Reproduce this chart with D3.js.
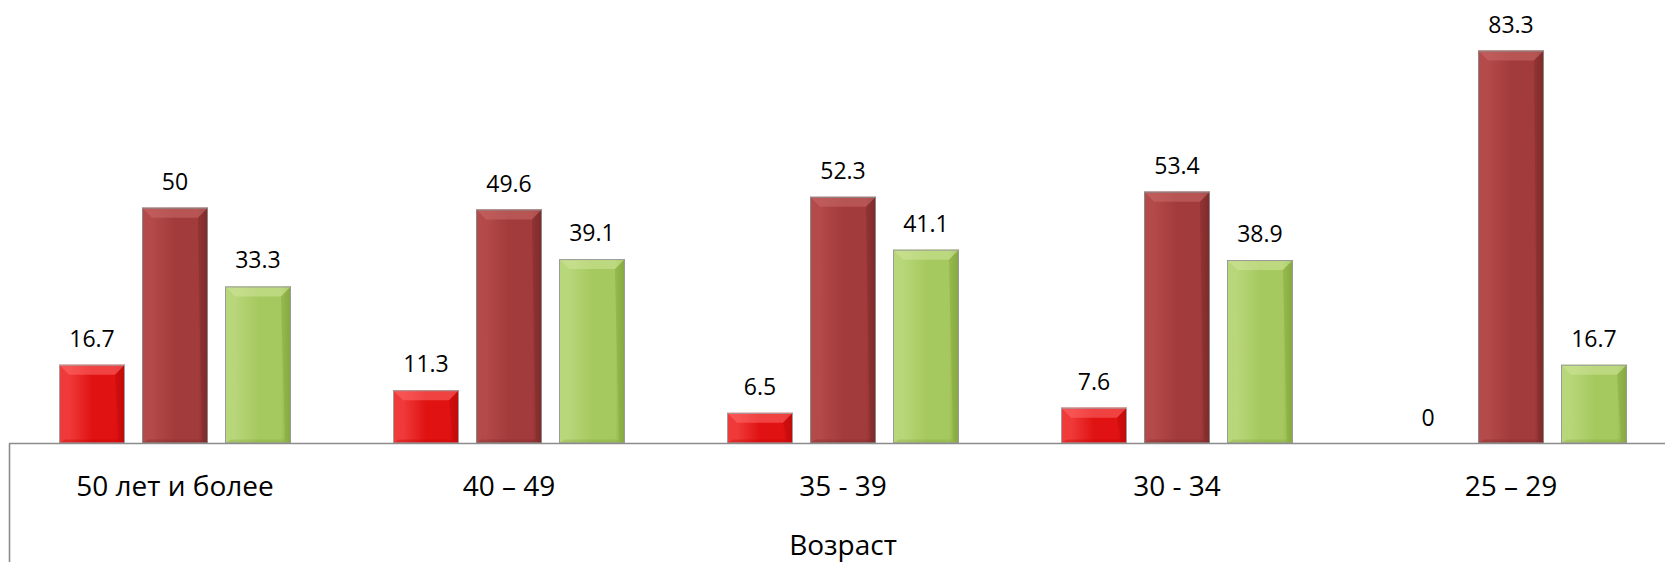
<!DOCTYPE html>
<html>
<head>
<meta charset="utf-8">
<script src="https://cdn.jsdelivr.net/npm/d3@7"></script>
<style>
  html, body { margin: 0; padding: 0; background: #ffffff; }
  svg { display: block; }
  text { font-family: "Open Sans", "Noto Sans", sans-serif; fill: #000; }
</style>
</head>
<body>
<svg id="chart" width="1665" height="562"></svg>
<script>
// ---- data ----
const categories = ["50 лет и более", "40 – 49", "35 - 39", "30 - 34", "25 – 29"];
const seriesNames = ["s1", "s2", "s3"];
const series1 = [16.7, 11.3, 6.5, 7.6, 0];
const series2 = [50, 49.6, 52.3, 53.4, 83.3];
const series3 = [33.3, 39.1, 41.1, 38.9, 16.7];
const axisTitle = "Возраст";

const seriesValues = [series1, series2, series3];
const palettes = [
  { light: "#f03a3a", main: "#e01212", dark: "#c20a0a", top: "#ff6a6a", stroke: "#a0a0a0" },
  { light: "#b44a4a", main: "#a23b3b", dark: "#7f2b2b", top: "#c86a6a", stroke: "#8a8a8a" },
  { light: "#b8d67a", main: "#a6c95f", dark: "#86a93f", top: "#cfe59a", stroke: "#9a9a9a" }
];

const W = 1665, H = 562;
const svg = d3.select("#chart");
const defs = svg.append("defs");

const x0 = d3.scaleBand().domain(categories).range([8, 1678]).padding(0);
const x1 = d3.scaleBand().domain(seriesNames).range([0, x0.bandwidth()])
  .paddingInner(0.205).paddingOuter(0.615);
const y = d3.scaleLinear().domain([0, 90]).range([443.5, 19]);

// gradients
palettes.forEach((p, i) => {
  const g = defs.append("linearGradient").attr("id", "hg" + i)
    .attr("x1", "0").attr("x2", "1").attr("y1", "0").attr("y2", "0");
  g.append("stop").attr("offset", "0").attr("stop-color", p.light);
  g.append("stop").attr("offset", "0.15").attr("stop-color", p.light);
  g.append("stop").attr("offset", "0.5").attr("stop-color", p.main);
  g.append("stop").attr("offset", "0.85").attr("stop-color", p.main);
  g.append("stop").attr("offset", "1").attr("stop-color", p.dark);
});

const rows = [];
categories.forEach((c, ci) => {
  seriesNames.forEach((s, si) => {
    rows.push({ cat: c, s: s, si: si, v: seriesValues[si][ci] });
  });
});

const bars = svg.append("g");
const bev = 10;
rows.forEach(d => {
  const x = x0(d.cat) + x1(d.s);
  const w = x1.bandwidth();
  const yt = y(d.v);
  const yb = y(0);
  const h = yb - yt;
  if (h <= 0) return;
  const p = palettes[d.si];
  const g = bars.append("g");
  g.append("rect").attr("x", x).attr("y", yt).attr("width", w).attr("height", h)
    .attr("fill", "url(#hg" + d.si + ")");
  const b = Math.min(bev, h / 2, w / 2);
  // top bevel
  g.append("path")
    .attr("d", `M${x},${yt}L${x + w},${yt}L${x + w - b},${yt + b}L${x + b},${yt + b}Z`)
    .attr("fill", p.top).attr("opacity", 0.55);
  // right bevel
  g.append("path")
    .attr("d", `M${x + w},${yt}L${x + w},${yb}L${x + w - b * 0.6},${yb - b * 0.4}L${x + w - b},${yt + b}Z`)
    .attr("fill", p.dark).attr("opacity", 0.45);
  // left bevel
  g.append("path")
    .attr("d", `M${x},${yt}L${x + b},${yt + b}L${x + b * 0.6},${yb - b * 0.4}L${x},${yb}Z`)
    .attr("fill", p.light).attr("opacity", 0.35);
  // bottom bevel
  g.append("path")
    .attr("d", `M${x},${yb}L${x + b * 0.6},${yb - b * 0.4}L${x + w - b * 0.6},${yb - b * 0.4}L${x + w},${yb}Z`)
    .attr("fill", p.dark).attr("opacity", 0.35);
  g.append("rect").attr("x", x + 0.5).attr("y", yt + 0.5).attr("width", w - 1).attr("height", h - 1)
    .attr("fill", "none").attr("stroke", p.stroke).attr("stroke-width", 1);
});

// value labels
svg.append("g").selectAll("text").data(rows).join("text")
  .attr("x", d => x0(d.cat) + x1(d.s) + x1.bandwidth() / 2)
  .attr("y", d => y(d.v) - 18)
  .attr("text-anchor", "middle")
  .attr("font-size", 23)
  .text(d => String(d.v));

// axis line and left border
svg.append("line").attr("x1", 9).attr("x2", W).attr("y1", y(0)).attr("y2", y(0))
  .attr("stroke", "#8c8c8c").attr("stroke-width", 1.6);
svg.append("line").attr("x1", 9.5).attr("x2", 9.5).attr("y1", y(0)).attr("y2", H)
  .attr("stroke", "#8c8c8c").attr("stroke-width", 1.6);

// category labels
svg.append("g").selectAll("text").data(categories).join("text")
  .attr("x", d => x0(d) + x0.bandwidth() / 2)
  .attr("y", 496)
  .attr("text-anchor", "middle")
  .attr("font-size", 28)
  .text(d => d);

// axis title
svg.append("text")
  .attr("x", (x0.range()[0] + x0.range()[1]) / 2)
  .attr("y", 555)
  .attr("text-anchor", "middle")
  .attr("font-size", 28)
  .text(axisTitle);
</script>
</body>
</html>
